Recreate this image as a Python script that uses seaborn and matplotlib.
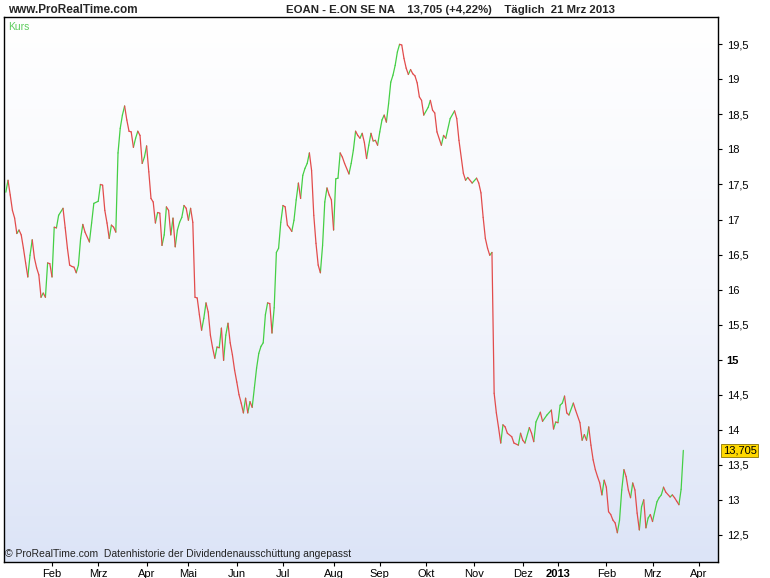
import numpy as np
import pandas as pd
import matplotlib
matplotlib.use("Agg")
import matplotlib.pyplot as plt
import matplotlib.transforms as mtransforms
from matplotlib.colors import LinearSegmentedColormap
import seaborn as sns

# Handelstag (Sitzung ab Anfang Jan 2012) und Schlusskurs EOAN
sitzung = [0, 1, 2, 3, 4, 5, 6, 7, 8, 9, 10, 11, 12, 13, 14, 15, 16, 17, 18, 19,
           20, 21, 22, 23, 24, 26, 27, 28, 29, 30, 31, 32, 33, 34, 35, 36, 38, 39, 40, 42,
           43, 44, 45, 46, 47, 48, 49, 50, 51, 52, 53, 54, 55, 56, 57, 58, 59, 60, 61, 62,
           63, 64, 65, 66, 67, 68, 69, 70, 71, 72, 73, 74, 75, 76, 77, 78, 79, 80, 81, 82,
           83, 84, 85, 86, 87, 88, 89, 90, 91, 92, 93, 94, 95, 96, 97, 98, 99, 100, 101, 102,
           103, 104, 105, 106, 107, 108, 109, 110, 111, 112, 113, 114, 115, 116, 117, 118, 119, 120, 121, 122,
           123, 124, 125, 126, 127, 128, 129, 130, 131, 132, 133, 134, 135, 136, 137, 138, 139, 140, 141, 142,
           143, 144, 145, 146, 147, 148, 149, 150, 151, 152, 153, 154, 156, 157, 158, 159, 160, 161, 162, 163,
           164, 165, 166, 167, 168, 169, 170, 171, 172, 173, 174, 175, 176, 177, 178, 179, 180, 181, 182, 183,
           184, 185, 186, 187, 188, 189, 190, 192, 193, 194, 195, 196, 198, 199, 200, 202, 204, 205, 206, 208,
           209, 210, 212, 214, 215, 216, 217, 218, 219, 220, 221, 222, 223, 224, 225, 226, 227, 228, 230, 231,
           233, 234, 235, 236, 238, 239, 240, 241, 243, 244, 246, 248, 249, 250, 251, 252, 253, 254, 255, 256,
           258, 259, 261, 262, 263, 264, 265, 266, 267, 268, 269, 270, 271, 272, 273, 274, 275, 276, 277, 278,
           279, 280, 281, 282, 283, 284, 285, 286, 287, 288, 289, 290, 291, 292, 293, 294, 296, 297, 298, 299,
           300, 302, 303, 304, 305, 306, 307, 308]
kurs = [17.39, 17.56, 17.35, 17.13, 17.02, 16.80, 16.85, 16.78, 16.59, 16.38, 16.18, 16.49, 16.71, 16.45, 16.31, 16.21, 15.89, 15.95, 15.89, 16.38,
        16.37, 16.18, 16.89, 16.88, 17.06, 17.16, 16.88, 16.59, 16.35, 16.33, 16.32, 16.24, 16.35, 16.73, 16.93, 16.82, 16.68, 16.95, 17.23, 17.26,
        17.50, 17.49, 17.13, 16.95, 16.73, 16.92, 16.89, 16.82, 17.95, 18.30, 18.49, 18.62, 18.42, 18.26, 18.25, 18.03, 18.16, 18.26, 18.20, 17.80,
        17.89, 18.05, 17.68, 17.30, 17.25, 16.95, 17.10, 17.09, 16.63, 16.78, 17.18, 17.13, 16.78, 17.02, 16.61, 16.85, 16.96, 17.03, 17.20, 17.16,
        16.99, 17.16, 16.96, 15.89, 15.88, 15.64, 15.42, 15.59, 15.81, 15.68, 15.35, 15.17, 15.02, 15.18, 15.17, 15.45, 14.99, 15.35, 15.52, 15.24,
        15.07, 14.85, 14.68, 14.50, 14.38, 14.24, 14.45, 14.24, 14.40, 14.32, 14.60, 14.88, 15.09, 15.19, 15.24, 15.64, 15.81, 15.80, 15.38, 15.74,
        16.53, 16.59, 16.96, 17.20, 17.18, 16.92, 16.88, 16.83, 16.99, 17.28, 17.52, 17.30, 17.63, 17.73, 17.80, 17.95, 17.70, 17.06, 16.66, 16.35,
        16.24, 16.63, 17.25, 17.45, 17.35, 17.28, 16.85, 17.58, 17.59, 17.95, 17.89, 17.80, 17.65, 17.80, 17.99, 18.26, 18.20, 18.16, 18.23, 18.10,
        17.87, 18.06, 18.23, 18.12, 18.13, 18.06, 18.25, 18.42, 18.49, 18.39, 18.65, 18.96, 19.06, 19.20, 19.39, 19.50, 19.49, 19.30, 19.16, 19.07,
        19.14, 19.08, 19.05, 18.95, 18.75, 18.70, 18.49, 18.60, 18.70, 18.56, 18.52, 18.25, 18.06, 18.20, 18.16, 18.44, 18.55, 18.44, 18.13, 17.66,
        17.56, 17.60, 17.52, 17.59, 17.52, 17.38, 17.03, 16.73, 16.59, 16.49, 16.53, 14.52, 14.24, 14.03, 13.81, 14.07, 14.04, 13.95, 13.90, 13.81,
        13.78, 13.95, 13.85, 13.81, 14.03, 13.95, 13.83, 14.11, 14.25, 14.12, 14.21, 14.28, 14.01, 14.11, 14.10, 14.35, 14.38, 14.48, 14.24, 14.21,
        14.38, 14.28, 14.10, 13.85, 13.93, 13.85, 14.04, 13.78, 13.57, 13.43, 13.33, 13.24, 13.07, 13.28, 13.18, 12.83, 12.79, 12.71, 12.67, 12.53,
        12.71, 13.14, 13.43, 13.33, 13.14, 13.03, 13.24, 13.14, 12.81, 12.57, 12.90, 13.00, 12.60, 12.74, 12.79, 12.69, 12.97, 13.03, 13.07, 13.18,
        13.11, 13.04, 13.07, 13.03, 12.98, 12.93, 13.15, 13.705]

# Monatsanfaenge (Sitzung) und Beschriftung
monat_start = [21, 42, 64, 83, 105, 126, 149, 170, 191, 213, 235, 251, 273, 294, 315]
monat_namen = ["Feb", "Mrz", "Apr", "Mai", "Jun", "Jul", "Aug", "Sep", "Okt", "Nov",
               "Dez", "2013", "Feb", "Mrz", "Apr"]
y_ticks = [12.5, 13, 13.5, 14, 14.5, 15, 15.5, 16, 16.5, 17, 17.5, 18, 18.5, 19, 19.5]

letzter_kurs = 13.705
aenderung = 4.22


def de(v, fmt):
    # deutsche Schreibweise mit Komma
    return format(v, fmt).replace(".", ",")


sns.set_style("white")
plt.rcParams["font.family"] = ["Liberation Sans", "DejaVu Sans"]

# jedes Segment bekommt die Farbe seiner Richtung
rows = []
for i in range(len(kurs) - 1):
    richtung = "auf" if kurs[i + 1] >= kurs[i] else "ab"
    rows.append({"seg": i, "sitzung": sitzung[i], "kurs": kurs[i], "richtung": richtung})
    rows.append({"seg": i, "sitzung": sitzung[i + 1], "kurs": kurs[i + 1], "richtung": richtung})
df = pd.DataFrame(rows)

fig = plt.figure(figsize=(7.7, 5.78), dpi=100)
ax = fig.add_axes([0.005, 0.028, 0.927, 0.942])

x0, x1 = -0.9, 323.6
y0, y1 = 12.115, 19.885

bg = LinearSegmentedColormap.from_list("bg", ["#ffffff", "#f4f6fc", "#dce4f7"])
grad = np.linspace(0, 1, 256).reshape(-1, 1)
ax.imshow(grad, cmap=bg, extent=[x0, x1, y0, y1], aspect="auto", origin="upper", zorder=0)

sns.lineplot(data=df, x="sitzung", y="kurs", hue="richtung", units="seg", estimator=None,
             palette={"auf": "#45cf45", "ab": "#e24c4c"}, linewidth=0.9, legend=False,
             sort=False, ax=ax, zorder=3)

ax.set_xlim(x0, x1)
ax.set_ylim(y0, y1)
ax.set_xlabel("")
ax.set_ylabel("")

for sp in ax.spines.values():
    sp.set_visible(True)
    sp.set_color("black")
    sp.set_linewidth(1.0)

ax.yaxis.tick_right()
ax.set_yticks(y_ticks)
ax.set_yticklabels([de(v, "g") for v in y_ticks])
for lab in ax.get_yticklabels():
    if lab.get_text() == "15":
        lab.set_fontweight("bold")
ax.tick_params(axis="y", direction="out", length=3, width=0.8, colors="black",
               labelsize=8, pad=3.5, right=True, left=False)

ax.set_xticks(monat_start)
ax.set_xticklabels(monat_namen)
for lab in ax.get_xticklabels():
    if lab.get_text() == "2013":
        lab.set_fontweight("bold")
        lab.set_fontsize(9.5)
ax.tick_params(axis="x", direction="out", length=3, width=0.8, colors="black",
               labelsize=8, pad=2, bottom=True)

# aktueller Kurs als gelbe Marke rechts
trans = mtransforms.blended_transform_factory(ax.transAxes, ax.transData)
ax.text(1.007, letzter_kurs, de(letzter_kurs, ".3f"), transform=trans,
        fontsize=8, va="center", ha="left", color="black", zorder=5,
        bbox=dict(boxstyle="square,pad=0.12", facecolor="#ffd800", edgecolor="#8a7400", linewidth=0.6))

ax.text(0.006, 0.992, "Kurs", transform=ax.transAxes, fontsize=7.5, color="#5ccc5c",
        va="top", ha="left")
ax.text(0.002, 0.006, "\u00a9 ProRealTime.com  Datenhistorie der Dividendenausschüttung angepasst",
        transform=ax.transAxes, fontsize=7.5, color="#222222", va="bottom", ha="left")

fig.text(0.010, 0.983, "www.ProRealTime.com", fontsize=8.5, fontweight="bold", va="center", ha="left")
kopf = (f"EOAN - E.ON SE NA    {de(letzter_kurs, '.3f')} (+{de(aenderung, '.2f')}%)"
        f"    Täglich  21 Mrz 2013")
fig.text(0.585, 0.983, kopf, fontsize=8.2, fontweight="bold", va="center", ha="center")

fig.savefig("out.png", dpi=100, facecolor="white")
